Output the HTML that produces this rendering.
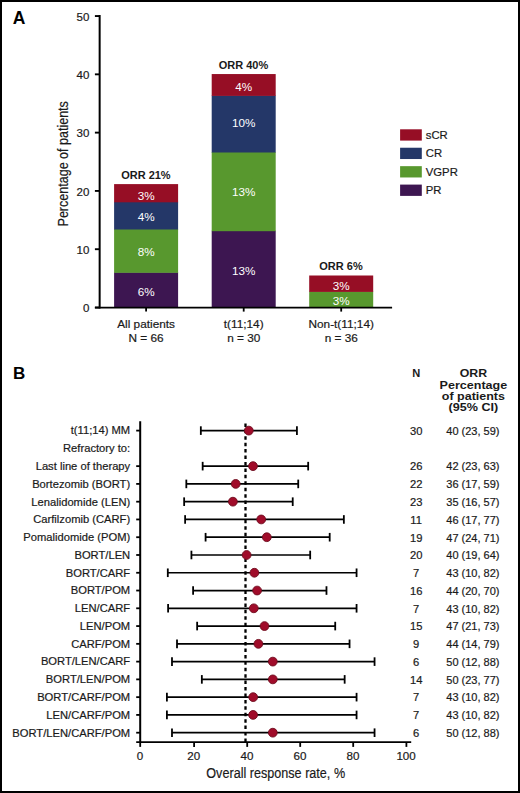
<!DOCTYPE html>
<html><head><meta charset="utf-8"><style>
html,body{margin:0;padding:0;background:#fff;}
body{width:520px;height:793px;overflow:hidden;}
svg{display:block;font-family:"Liberation Sans", sans-serif;}
</style></head><body>
<svg width="520" height="793" viewBox="0 0 520 793">
<rect x="0" y="0" width="520" height="793" fill="#fff"/>
<text x="12.80" y="23.70" font-size="17.5" text-anchor="start" font-weight="bold" fill="#000" >A</text>
<rect x="114.10" y="272.30" width="64.00" height="35.70" fill="#3d1651"/>
<rect x="114.10" y="229.00" width="64.00" height="43.80" fill="#58982e"/>
<rect x="114.10" y="201.80" width="64.00" height="27.70" fill="#243768"/>
<rect x="114.10" y="184.10" width="64.00" height="18.20" fill="#960e25"/>
<text x="146.10" y="295.90" font-size="11.7" text-anchor="middle" fill="#fff" >6%</text>
<text x="146.10" y="255.75" font-size="11.7" text-anchor="middle" fill="#fff" >8%</text>
<text x="146.10" y="221.25" font-size="11.7" text-anchor="middle" fill="#fff" >4%</text>
<text x="146.10" y="199.50" font-size="11.7" text-anchor="middle" fill="#fff" >3%</text>
<text x="145.90" y="178.70" font-size="11" text-anchor="middle" font-weight="bold" fill="#1a1a1a" >ORR 21%</text>
<text x="146.10" y="327.90" font-size="11.8" text-anchor="middle" fill="#1a1a1a" stroke="#1a1a1a" stroke-width="0.2" >All patients</text>
<text x="146.10" y="342.40" font-size="11.8" text-anchor="middle" fill="#1a1a1a" stroke="#1a1a1a" stroke-width="0.2" >N = 66</text>
<line x1="146.10" y1="307.50" x2="146.10" y2="311.60" stroke="#000" stroke-width="1.8" />
<rect x="211.70" y="230.70" width="64.00" height="77.30" fill="#3d1651"/>
<rect x="211.70" y="152.00" width="64.00" height="79.20" fill="#58982e"/>
<rect x="211.70" y="95.40" width="64.00" height="57.10" fill="#243768"/>
<rect x="211.70" y="74.05" width="64.00" height="21.85" fill="#960e25"/>
<text x="243.70" y="275.30" font-size="11.7" text-anchor="middle" fill="#fff" >13%</text>
<text x="243.70" y="196.35" font-size="11.7" text-anchor="middle" fill="#fff" >13%</text>
<text x="243.70" y="127.35" font-size="11.7" text-anchor="middle" fill="#fff" >10%</text>
<text x="243.70" y="90.60" font-size="11.7" text-anchor="middle" fill="#fff" >4%</text>
<text x="243.50" y="68.65" font-size="11" text-anchor="middle" font-weight="bold" fill="#1a1a1a" >ORR 40%</text>
<text x="243.70" y="327.90" font-size="11.8" text-anchor="middle" fill="#1a1a1a" stroke="#1a1a1a" stroke-width="0.2" >t(11;14)</text>
<text x="243.70" y="342.40" font-size="11.8" text-anchor="middle" fill="#1a1a1a" stroke="#1a1a1a" stroke-width="0.2" >n = 30</text>
<line x1="243.70" y1="307.50" x2="243.70" y2="311.60" stroke="#000" stroke-width="1.8" />
<rect x="309.20" y="291.40" width="64.00" height="16.60" fill="#58982e"/>
<rect x="309.20" y="275.50" width="64.00" height="16.40" fill="#960e25"/>
<text x="341.20" y="305.10" font-size="11.7" text-anchor="middle" fill="#fff" >3%</text>
<text x="341.20" y="289.60" font-size="11.7" text-anchor="middle" fill="#fff" >3%</text>
<text x="341.00" y="270.10" font-size="11" text-anchor="middle" font-weight="bold" fill="#1a1a1a" >ORR 6%</text>
<text x="341.20" y="327.90" font-size="11.8" text-anchor="middle" fill="#1a1a1a" stroke="#1a1a1a" stroke-width="0.2" >Non-t(11;14)</text>
<text x="341.20" y="342.40" font-size="11.8" text-anchor="middle" fill="#1a1a1a" stroke="#1a1a1a" stroke-width="0.2" >n = 36</text>
<line x1="341.20" y1="307.50" x2="341.20" y2="311.60" stroke="#000" stroke-width="1.8" />
<line x1="99.65" y1="15.10" x2="99.65" y2="308.40" stroke="#000" stroke-width="2" />
<line x1="94.90" y1="307.60" x2="392.10" y2="307.60" stroke="#000" stroke-width="1.9" />
<line x1="94.90" y1="307.50" x2="99.65" y2="307.50" stroke="#000" stroke-width="1.9" />
<text x="89.30" y="312.10" font-size="11.5" text-anchor="end" fill="#1a1a1a" stroke="#1a1a1a" stroke-width="0.2" >0</text>
<line x1="94.90" y1="249.21" x2="99.65" y2="249.21" stroke="#000" stroke-width="1.9" />
<text x="89.30" y="253.81" font-size="11.5" text-anchor="end" fill="#1a1a1a" stroke="#1a1a1a" stroke-width="0.2" >10</text>
<line x1="94.90" y1="190.92" x2="99.65" y2="190.92" stroke="#000" stroke-width="1.9" />
<text x="89.30" y="195.52" font-size="11.5" text-anchor="end" fill="#1a1a1a" stroke="#1a1a1a" stroke-width="0.2" >20</text>
<line x1="94.90" y1="132.63" x2="99.65" y2="132.63" stroke="#000" stroke-width="1.9" />
<text x="89.30" y="137.23" font-size="11.5" text-anchor="end" fill="#1a1a1a" stroke="#1a1a1a" stroke-width="0.2" >30</text>
<line x1="94.90" y1="74.34" x2="99.65" y2="74.34" stroke="#000" stroke-width="1.9" />
<text x="89.30" y="78.94" font-size="11.5" text-anchor="end" fill="#1a1a1a" stroke="#1a1a1a" stroke-width="0.2" >40</text>
<line x1="94.90" y1="16.05" x2="99.65" y2="16.05" stroke="#000" stroke-width="1.9" />
<text x="89.30" y="20.65" font-size="11.5" text-anchor="end" fill="#1a1a1a" stroke="#1a1a1a" stroke-width="0.2" >50</text>
<text x="0.00" y="0.00" font-size="15.5" text-anchor="middle" fill="#1a1a1a" stroke="#1a1a1a" stroke-width="0.2" transform="translate(68.0,163.8) rotate(-90)" textLength="125.3" lengthAdjust="spacingAndGlyphs">Percentage of patients</text>
<rect x="400.10" y="129.30" width="21.70" height="11.30" fill="#960e25"/>
<text x="425.80" y="138.80" font-size="11.3" text-anchor="start" fill="#1a1a1a" stroke="#1a1a1a" stroke-width="0.2" >sCR</text>
<rect x="400.10" y="147.73" width="21.70" height="11.30" fill="#243768"/>
<text x="425.80" y="157.23" font-size="11.3" text-anchor="start" fill="#1a1a1a" stroke="#1a1a1a" stroke-width="0.2" >CR</text>
<rect x="400.10" y="166.16" width="21.70" height="11.30" fill="#58982e"/>
<text x="425.80" y="175.66" font-size="11.3" text-anchor="start" fill="#1a1a1a" stroke="#1a1a1a" stroke-width="0.2" >VGPR</text>
<rect x="400.10" y="184.59" width="21.70" height="11.30" fill="#3d1651"/>
<text x="425.80" y="194.09" font-size="11.3" text-anchor="start" fill="#1a1a1a" stroke="#1a1a1a" stroke-width="0.2" >PR</text>
<text x="12.90" y="379.40" font-size="17" text-anchor="start" font-weight="bold" fill="#000" >B</text>
<text x="416.15" y="377.30" font-size="11.2" text-anchor="middle" font-weight="bold" fill="#1a1a1a" textLength="8.0" lengthAdjust="spacingAndGlyphs">N</text>
<text x="473.40" y="376.90" font-size="11.2" text-anchor="middle" font-weight="bold" fill="#1a1a1a" textLength="27.4" lengthAdjust="spacingAndGlyphs">ORR</text>
<text x="473.40" y="388.50" font-size="11.2" text-anchor="middle" font-weight="bold" fill="#1a1a1a" textLength="67.7" lengthAdjust="spacingAndGlyphs">Percentage</text>
<text x="473.40" y="399.70" font-size="11.2" text-anchor="middle" font-weight="bold" fill="#1a1a1a" textLength="63.1" lengthAdjust="spacingAndGlyphs">of patients</text>
<text x="473.40" y="410.90" font-size="11.2" text-anchor="middle" font-weight="bold" fill="#1a1a1a" textLength="49.6" lengthAdjust="spacingAndGlyphs">(95% CI)</text>
<line x1="245.50" y1="423.40" x2="245.50" y2="742.00" stroke="#000" stroke-width="2.3" stroke-dasharray="3.5 2.93"/>
<text x="130.20" y="434.45" font-size="11.2" text-anchor="end" fill="#1a1a1a" stroke="#1a1a1a" stroke-width="0.2" >t(11;14) MM</text>
<line x1="136.20" y1="430.60" x2="140.20" y2="430.60" stroke="#000" stroke-width="1.8" />
<line x1="200.83" y1="430.60" x2="296.92" y2="430.60" stroke="#000" stroke-width="1.7" />
<line x1="200.83" y1="426.30" x2="200.83" y2="434.90" stroke="#000" stroke-width="1.8" />
<line x1="296.92" y1="426.30" x2="296.92" y2="434.90" stroke="#000" stroke-width="1.8" />
<circle cx="248.80" cy="430.60" r="4.4" fill="#a00c2a" stroke="#6e0c1e" stroke-width="0.9"/>
<text x="416.15" y="434.90" font-size="11.2" text-anchor="middle" fill="#1a1a1a" stroke="#1a1a1a" stroke-width="0.2" >30</text>
<text x="446.30" y="434.90" font-size="11" text-anchor="start" fill="#1a1a1a" stroke="#1a1a1a" stroke-width="0.2" >40 (23, 59)</text>
<text x="130.20" y="452.22" font-size="11.2" text-anchor="end" fill="#1a1a1a" stroke="#1a1a1a" stroke-width="0.2" >Refractory to:</text>
<text x="130.20" y="469.99" font-size="11.2" text-anchor="end" fill="#1a1a1a" stroke="#1a1a1a" stroke-width="0.2" >Last line of therapy</text>
<line x1="136.20" y1="466.14" x2="140.20" y2="466.14" stroke="#000" stroke-width="1.8" />
<line x1="202.66" y1="466.14" x2="308.17" y2="466.14" stroke="#000" stroke-width="1.7" />
<line x1="202.66" y1="461.84" x2="202.66" y2="470.44" stroke="#000" stroke-width="1.8" />
<line x1="308.17" y1="461.84" x2="308.17" y2="470.44" stroke="#000" stroke-width="1.8" />
<circle cx="253.00" cy="466.14" r="4.4" fill="#a00c2a" stroke="#6e0c1e" stroke-width="0.9"/>
<text x="416.15" y="470.44" font-size="11.2" text-anchor="middle" fill="#1a1a1a" stroke="#1a1a1a" stroke-width="0.2" >26</text>
<text x="446.30" y="470.44" font-size="11" text-anchor="start" fill="#1a1a1a" stroke="#1a1a1a" stroke-width="0.2" >42 (23, 63)</text>
<text x="130.20" y="487.76" font-size="11.2" text-anchor="end" fill="#1a1a1a" stroke="#1a1a1a" stroke-width="0.2" >Bortezomib (BORT)</text>
<line x1="136.20" y1="483.91" x2="140.20" y2="483.91" stroke="#000" stroke-width="1.8" />
<line x1="186.32" y1="483.91" x2="298.23" y2="483.91" stroke="#000" stroke-width="1.7" />
<line x1="186.32" y1="479.61" x2="186.32" y2="488.21" stroke="#000" stroke-width="1.8" />
<line x1="298.23" y1="479.61" x2="298.23" y2="488.21" stroke="#000" stroke-width="1.8" />
<circle cx="235.70" cy="483.91" r="4.4" fill="#a00c2a" stroke="#6e0c1e" stroke-width="0.9"/>
<text x="416.15" y="488.21" font-size="11.2" text-anchor="middle" fill="#1a1a1a" stroke="#1a1a1a" stroke-width="0.2" >22</text>
<text x="446.30" y="488.21" font-size="11" text-anchor="start" fill="#1a1a1a" stroke="#1a1a1a" stroke-width="0.2" >36 (17, 59)</text>
<text x="130.20" y="505.53" font-size="11.2" text-anchor="end" fill="#1a1a1a" stroke="#1a1a1a" stroke-width="0.2" >Lenalidomide (LEN)</text>
<line x1="136.20" y1="501.68" x2="140.20" y2="501.68" stroke="#000" stroke-width="1.8" />
<line x1="184.14" y1="501.68" x2="292.72" y2="501.68" stroke="#000" stroke-width="1.7" />
<line x1="184.14" y1="497.38" x2="184.14" y2="505.98" stroke="#000" stroke-width="1.8" />
<line x1="292.72" y1="497.38" x2="292.72" y2="505.98" stroke="#000" stroke-width="1.8" />
<circle cx="232.90" cy="501.68" r="4.4" fill="#a00c2a" stroke="#6e0c1e" stroke-width="0.9"/>
<text x="416.15" y="505.98" font-size="11.2" text-anchor="middle" fill="#1a1a1a" stroke="#1a1a1a" stroke-width="0.2" >23</text>
<text x="446.30" y="505.98" font-size="11" text-anchor="start" fill="#1a1a1a" stroke="#1a1a1a" stroke-width="0.2" >35 (16, 57)</text>
<text x="130.20" y="523.30" font-size="11.2" text-anchor="end" fill="#1a1a1a" stroke="#1a1a1a" stroke-width="0.2" >Carfilzomib (CARF)</text>
<line x1="136.20" y1="519.45" x2="140.20" y2="519.45" stroke="#000" stroke-width="1.8" />
<line x1="185.12" y1="519.45" x2="343.86" y2="519.45" stroke="#000" stroke-width="1.7" />
<line x1="185.12" y1="515.15" x2="185.12" y2="523.75" stroke="#000" stroke-width="1.8" />
<line x1="343.86" y1="515.15" x2="343.86" y2="523.75" stroke="#000" stroke-width="1.8" />
<circle cx="261.20" cy="519.45" r="4.4" fill="#a00c2a" stroke="#6e0c1e" stroke-width="0.9"/>
<text x="416.15" y="523.75" font-size="11.2" text-anchor="middle" fill="#1a1a1a" stroke="#1a1a1a" stroke-width="0.2" >11</text>
<text x="446.30" y="523.75" font-size="11" text-anchor="start" fill="#1a1a1a" stroke="#1a1a1a" stroke-width="0.2" >46 (17, 77)</text>
<text x="130.20" y="541.07" font-size="11.2" text-anchor="end" fill="#1a1a1a" stroke="#1a1a1a" stroke-width="0.2" >Pomalidomide (POM)</text>
<line x1="136.20" y1="537.22" x2="140.20" y2="537.22" stroke="#000" stroke-width="1.8" />
<line x1="205.59" y1="537.22" x2="329.69" y2="537.22" stroke="#000" stroke-width="1.7" />
<line x1="205.59" y1="532.92" x2="205.59" y2="541.52" stroke="#000" stroke-width="1.8" />
<line x1="329.69" y1="532.92" x2="329.69" y2="541.52" stroke="#000" stroke-width="1.8" />
<circle cx="266.80" cy="537.22" r="4.4" fill="#a00c2a" stroke="#6e0c1e" stroke-width="0.9"/>
<text x="416.15" y="541.52" font-size="11.2" text-anchor="middle" fill="#1a1a1a" stroke="#1a1a1a" stroke-width="0.2" >19</text>
<text x="446.30" y="541.52" font-size="11" text-anchor="start" fill="#1a1a1a" stroke="#1a1a1a" stroke-width="0.2" >47 (24, 71)</text>
<text x="130.20" y="558.84" font-size="11.2" text-anchor="end" fill="#1a1a1a" stroke="#1a1a1a" stroke-width="0.2" >BORT/LEN</text>
<line x1="136.20" y1="554.99" x2="140.20" y2="554.99" stroke="#000" stroke-width="1.8" />
<line x1="191.42" y1="554.99" x2="310.18" y2="554.99" stroke="#000" stroke-width="1.7" />
<line x1="191.42" y1="550.69" x2="191.42" y2="559.29" stroke="#000" stroke-width="1.8" />
<line x1="310.18" y1="550.69" x2="310.18" y2="559.29" stroke="#000" stroke-width="1.8" />
<circle cx="246.60" cy="554.99" r="4.4" fill="#a00c2a" stroke="#6e0c1e" stroke-width="0.9"/>
<text x="416.15" y="559.29" font-size="11.2" text-anchor="middle" fill="#1a1a1a" stroke="#1a1a1a" stroke-width="0.2" >20</text>
<text x="446.30" y="559.29" font-size="11" text-anchor="start" fill="#1a1a1a" stroke="#1a1a1a" stroke-width="0.2" >40 (19, 64)</text>
<text x="130.20" y="576.61" font-size="11.2" text-anchor="end" fill="#1a1a1a" stroke="#1a1a1a" stroke-width="0.2" >BORT/CARF</text>
<line x1="136.20" y1="572.76" x2="140.20" y2="572.76" stroke="#000" stroke-width="1.8" />
<line x1="167.80" y1="572.76" x2="356.57" y2="572.76" stroke="#000" stroke-width="1.7" />
<line x1="167.80" y1="568.46" x2="167.80" y2="577.06" stroke="#000" stroke-width="1.8" />
<line x1="356.57" y1="568.46" x2="356.57" y2="577.06" stroke="#000" stroke-width="1.8" />
<circle cx="254.40" cy="572.76" r="4.4" fill="#a00c2a" stroke="#6e0c1e" stroke-width="0.9"/>
<text x="416.15" y="577.06" font-size="11.2" text-anchor="middle" fill="#1a1a1a" stroke="#1a1a1a" stroke-width="0.2" >7</text>
<text x="446.30" y="577.06" font-size="11" text-anchor="start" fill="#1a1a1a" stroke="#1a1a1a" stroke-width="0.2" >43 (10, 82)</text>
<text x="130.20" y="594.38" font-size="11.2" text-anchor="end" fill="#1a1a1a" stroke="#1a1a1a" stroke-width="0.2" >BORT/POM</text>
<line x1="136.20" y1="590.53" x2="140.20" y2="590.53" stroke="#000" stroke-width="1.8" />
<line x1="193.10" y1="590.53" x2="326.48" y2="590.53" stroke="#000" stroke-width="1.7" />
<line x1="193.10" y1="586.23" x2="193.10" y2="594.83" stroke="#000" stroke-width="1.8" />
<line x1="326.48" y1="586.23" x2="326.48" y2="594.83" stroke="#000" stroke-width="1.8" />
<circle cx="257.10" cy="590.53" r="4.4" fill="#a00c2a" stroke="#6e0c1e" stroke-width="0.9"/>
<text x="416.15" y="594.83" font-size="11.2" text-anchor="middle" fill="#1a1a1a" stroke="#1a1a1a" stroke-width="0.2" >16</text>
<text x="446.30" y="594.83" font-size="11" text-anchor="start" fill="#1a1a1a" stroke="#1a1a1a" stroke-width="0.2" >44 (20, 70)</text>
<text x="130.20" y="612.15" font-size="11.2" text-anchor="end" fill="#1a1a1a" stroke="#1a1a1a" stroke-width="0.2" >LEN/CARF</text>
<line x1="136.20" y1="608.30" x2="140.20" y2="608.30" stroke="#000" stroke-width="1.8" />
<line x1="168.10" y1="608.30" x2="356.57" y2="608.30" stroke="#000" stroke-width="1.7" />
<line x1="168.10" y1="604.00" x2="168.10" y2="612.60" stroke="#000" stroke-width="1.8" />
<line x1="356.57" y1="604.00" x2="356.57" y2="612.60" stroke="#000" stroke-width="1.8" />
<circle cx="253.80" cy="608.30" r="4.4" fill="#a00c2a" stroke="#6e0c1e" stroke-width="0.9"/>
<text x="416.15" y="612.60" font-size="11.2" text-anchor="middle" fill="#1a1a1a" stroke="#1a1a1a" stroke-width="0.2" >7</text>
<text x="446.30" y="612.60" font-size="11" text-anchor="start" fill="#1a1a1a" stroke="#1a1a1a" stroke-width="0.2" >43 (10, 82)</text>
<text x="130.20" y="629.92" font-size="11.2" text-anchor="end" fill="#1a1a1a" stroke="#1a1a1a" stroke-width="0.2" >LEN/POM</text>
<line x1="136.20" y1="626.07" x2="140.20" y2="626.07" stroke="#000" stroke-width="1.8" />
<line x1="197.14" y1="626.07" x2="335.22" y2="626.07" stroke="#000" stroke-width="1.7" />
<line x1="197.14" y1="621.77" x2="197.14" y2="630.37" stroke="#000" stroke-width="1.8" />
<line x1="335.22" y1="621.77" x2="335.22" y2="630.37" stroke="#000" stroke-width="1.8" />
<circle cx="264.50" cy="626.07" r="4.4" fill="#a00c2a" stroke="#6e0c1e" stroke-width="0.9"/>
<text x="416.15" y="630.37" font-size="11.2" text-anchor="middle" fill="#1a1a1a" stroke="#1a1a1a" stroke-width="0.2" >15</text>
<text x="446.30" y="630.37" font-size="11" text-anchor="start" fill="#1a1a1a" stroke="#1a1a1a" stroke-width="0.2" >47 (21, 73)</text>
<text x="130.20" y="647.69" font-size="11.2" text-anchor="end" fill="#1a1a1a" stroke="#1a1a1a" stroke-width="0.2" >CARF/POM</text>
<line x1="136.20" y1="643.84" x2="140.20" y2="643.84" stroke="#000" stroke-width="1.8" />
<line x1="177.01" y1="643.84" x2="349.55" y2="643.84" stroke="#000" stroke-width="1.7" />
<line x1="177.01" y1="639.54" x2="177.01" y2="648.14" stroke="#000" stroke-width="1.8" />
<line x1="349.55" y1="639.54" x2="349.55" y2="648.14" stroke="#000" stroke-width="1.8" />
<circle cx="258.40" cy="643.84" r="4.4" fill="#a00c2a" stroke="#6e0c1e" stroke-width="0.9"/>
<text x="416.15" y="648.14" font-size="11.2" text-anchor="middle" fill="#1a1a1a" stroke="#1a1a1a" stroke-width="0.2" >9</text>
<text x="446.30" y="648.14" font-size="11" text-anchor="start" fill="#1a1a1a" stroke="#1a1a1a" stroke-width="0.2" >44 (14, 79)</text>
<text x="130.20" y="665.46" font-size="11.2" text-anchor="end" fill="#1a1a1a" stroke="#1a1a1a" stroke-width="0.2" >BORT/LEN/CARF</text>
<line x1="136.20" y1="661.61" x2="140.20" y2="661.61" stroke="#000" stroke-width="1.8" />
<line x1="171.99" y1="661.61" x2="374.56" y2="661.61" stroke="#000" stroke-width="1.7" />
<line x1="171.99" y1="657.31" x2="171.99" y2="665.91" stroke="#000" stroke-width="1.8" />
<line x1="374.56" y1="657.31" x2="374.56" y2="665.91" stroke="#000" stroke-width="1.8" />
<circle cx="272.80" cy="661.61" r="4.4" fill="#a00c2a" stroke="#6e0c1e" stroke-width="0.9"/>
<text x="416.15" y="665.91" font-size="11.2" text-anchor="middle" fill="#1a1a1a" stroke="#1a1a1a" stroke-width="0.2" >6</text>
<text x="446.30" y="665.91" font-size="11" text-anchor="start" fill="#1a1a1a" stroke="#1a1a1a" stroke-width="0.2" >50 (12, 88)</text>
<text x="130.20" y="683.23" font-size="11.2" text-anchor="end" fill="#1a1a1a" stroke="#1a1a1a" stroke-width="0.2" >BORT/LEN/POM</text>
<line x1="136.20" y1="679.38" x2="140.20" y2="679.38" stroke="#000" stroke-width="1.8" />
<line x1="201.84" y1="679.38" x2="344.66" y2="679.38" stroke="#000" stroke-width="1.7" />
<line x1="201.84" y1="675.08" x2="201.84" y2="683.68" stroke="#000" stroke-width="1.8" />
<line x1="344.66" y1="675.08" x2="344.66" y2="683.68" stroke="#000" stroke-width="1.8" />
<circle cx="272.80" cy="679.38" r="4.4" fill="#a00c2a" stroke="#6e0c1e" stroke-width="0.9"/>
<text x="416.15" y="683.68" font-size="11.2" text-anchor="middle" fill="#1a1a1a" stroke="#1a1a1a" stroke-width="0.2" >14</text>
<text x="446.30" y="683.68" font-size="11" text-anchor="start" fill="#1a1a1a" stroke="#1a1a1a" stroke-width="0.2" >50 (23, 77)</text>
<text x="130.20" y="701.00" font-size="11.2" text-anchor="end" fill="#1a1a1a" stroke="#1a1a1a" stroke-width="0.2" >BORT/CARF/POM</text>
<line x1="136.20" y1="697.15" x2="140.20" y2="697.15" stroke="#000" stroke-width="1.8" />
<line x1="166.91" y1="697.15" x2="356.57" y2="697.15" stroke="#000" stroke-width="1.7" />
<line x1="166.91" y1="692.85" x2="166.91" y2="701.45" stroke="#000" stroke-width="1.8" />
<line x1="356.57" y1="692.85" x2="356.57" y2="701.45" stroke="#000" stroke-width="1.8" />
<circle cx="253.20" cy="697.15" r="4.4" fill="#a00c2a" stroke="#6e0c1e" stroke-width="0.9"/>
<text x="416.15" y="701.45" font-size="11.2" text-anchor="middle" fill="#1a1a1a" stroke="#1a1a1a" stroke-width="0.2" >7</text>
<text x="446.30" y="701.45" font-size="11" text-anchor="start" fill="#1a1a1a" stroke="#1a1a1a" stroke-width="0.2" >43 (10, 82)</text>
<text x="130.20" y="718.77" font-size="11.2" text-anchor="end" fill="#1a1a1a" stroke="#1a1a1a" stroke-width="0.2" >LEN/CARF/POM</text>
<line x1="136.20" y1="714.92" x2="140.20" y2="714.92" stroke="#000" stroke-width="1.8" />
<line x1="166.91" y1="714.92" x2="356.57" y2="714.92" stroke="#000" stroke-width="1.7" />
<line x1="166.91" y1="710.62" x2="166.91" y2="719.22" stroke="#000" stroke-width="1.8" />
<line x1="356.57" y1="710.62" x2="356.57" y2="719.22" stroke="#000" stroke-width="1.8" />
<circle cx="253.10" cy="714.92" r="4.4" fill="#a00c2a" stroke="#6e0c1e" stroke-width="0.9"/>
<text x="416.15" y="719.22" font-size="11.2" text-anchor="middle" fill="#1a1a1a" stroke="#1a1a1a" stroke-width="0.2" >7</text>
<text x="446.30" y="719.22" font-size="11" text-anchor="start" fill="#1a1a1a" stroke="#1a1a1a" stroke-width="0.2" >43 (10, 82)</text>
<text x="130.20" y="736.54" font-size="11.2" text-anchor="end" fill="#1a1a1a" stroke="#1a1a1a" stroke-width="0.2" >BORT/LEN/CARF/POM</text>
<line x1="136.20" y1="732.69" x2="140.20" y2="732.69" stroke="#000" stroke-width="1.8" />
<line x1="171.99" y1="732.69" x2="374.56" y2="732.69" stroke="#000" stroke-width="1.7" />
<line x1="171.99" y1="728.39" x2="171.99" y2="736.99" stroke="#000" stroke-width="1.8" />
<line x1="374.56" y1="728.39" x2="374.56" y2="736.99" stroke="#000" stroke-width="1.8" />
<circle cx="272.80" cy="732.69" r="4.4" fill="#a00c2a" stroke="#6e0c1e" stroke-width="0.9"/>
<text x="416.15" y="736.99" font-size="11.2" text-anchor="middle" fill="#1a1a1a" stroke="#1a1a1a" stroke-width="0.2" >6</text>
<text x="446.30" y="736.99" font-size="11" text-anchor="start" fill="#1a1a1a" stroke="#1a1a1a" stroke-width="0.2" >50 (12, 88)</text>
<line x1="140.20" y1="421.20" x2="140.20" y2="743.00" stroke="#000" stroke-width="2" />
<line x1="136.20" y1="742.10" x2="411.20" y2="742.10" stroke="#000" stroke-width="1.9" />
<line x1="140.20" y1="742.10" x2="140.20" y2="746.90" stroke="#000" stroke-width="1.8" />
<text x="139.90" y="759.70" font-size="11.6" text-anchor="middle" fill="#1a1a1a" stroke="#1a1a1a" stroke-width="0.2" >0</text>
<line x1="194.10" y1="742.10" x2="194.10" y2="746.90" stroke="#000" stroke-width="1.8" />
<text x="193.80" y="759.70" font-size="11.6" text-anchor="middle" fill="#1a1a1a" stroke="#1a1a1a" stroke-width="0.2" >20</text>
<line x1="247.20" y1="742.10" x2="247.20" y2="746.90" stroke="#000" stroke-width="1.8" />
<text x="246.90" y="759.70" font-size="11.6" text-anchor="middle" fill="#1a1a1a" stroke="#1a1a1a" stroke-width="0.2" >40</text>
<line x1="300.20" y1="742.10" x2="300.20" y2="746.90" stroke="#000" stroke-width="1.8" />
<text x="299.90" y="759.70" font-size="11.6" text-anchor="middle" fill="#1a1a1a" stroke="#1a1a1a" stroke-width="0.2" >60</text>
<line x1="353.20" y1="742.10" x2="353.20" y2="746.90" stroke="#000" stroke-width="1.8" />
<text x="352.90" y="759.70" font-size="11.6" text-anchor="middle" fill="#1a1a1a" stroke="#1a1a1a" stroke-width="0.2" >80</text>
<line x1="406.40" y1="742.10" x2="406.40" y2="746.90" stroke="#000" stroke-width="1.8" />
<text x="406.10" y="759.70" font-size="11.6" text-anchor="middle" fill="#1a1a1a" stroke="#1a1a1a" stroke-width="0.2" >100</text>
<text x="206.30" y="777.70" font-size="15.3" text-anchor="start" fill="#1a1a1a" stroke="#1a1a1a" stroke-width="0.2" textLength="138.8" lengthAdjust="spacingAndGlyphs">Overall response rate, %</text>
<rect x="1" y="1" width="518" height="791" fill="none" stroke="#000" stroke-width="2"/>
</svg>
</body></html>
